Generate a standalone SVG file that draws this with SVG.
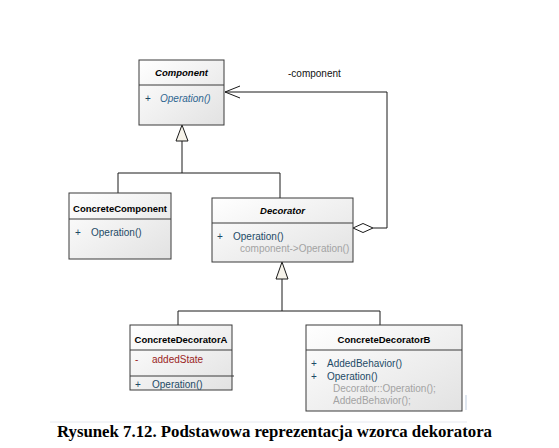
<svg xmlns="http://www.w3.org/2000/svg" width="559" height="448" viewBox="0 0 559 448">
<defs>
<linearGradient id="g" x1="0" y1="0" x2="1" y2="1">
<stop offset="0" stop-color="#ffffff"/>
<stop offset="1" stop-color="#e2e2e2"/>
</linearGradient>
</defs>
<style>
.box{fill:url(#g);stroke:#3a3a3a;stroke-width:1}
.div{stroke:#3a3a3a;stroke-width:1}
.ln{fill:none;stroke:#1a1a1a;stroke-width:1}
.tri{fill:#f6f3ea;stroke:#1a1a1a;stroke-width:1}
.nm{font-family:"Liberation Sans",Arial,sans-serif;font-size:9.5px;font-weight:bold;fill:#000}
.it{font-style:italic}
.m{font-family:"Liberation Sans",Arial,sans-serif;font-size:10px;fill:#1d4a66}
.mi{font-style:italic;fill:#2f6690}
.red{fill:#9a2424}
.gr{font-family:"Liberation Sans",Arial,sans-serif;font-size:10px;fill:#a3a3a3}
.lbl{font-family:"Liberation Sans",Arial,sans-serif;font-size:10px;fill:#111}
.cap{font-family:"Liberation Serif","Times New Roman",serif;font-size:16px;font-weight:bold;fill:#000}
</style>
<rect width="559" height="448" fill="#ffffff"/>
<g id="connectors">
<polyline class="ln" points="182,141 182,173"/>
<polyline class="ln" points="118,193 118,173 280,173 280,198"/>
<polygon class="tri" points="182,125 176,141 188,141"/>
<polyline class="ln" points="282,279 282,311"/>
<polyline class="ln" points="178,325 178,311 380,311 380,325"/>
<polygon class="tri" points="282,262 276,279 288,279"/>
<polyline class="ln" points="373,228 387,228 387,92 225,92"/>
<polyline class="ln" points="240,86 225,92 240,98"/>
<polygon fill="#ffffff" stroke="#1a1a1a" stroke-width="1" points="353,228 363,223.5 373,228 363,232.5"/>
<text class="lbl" x="288" y="77">-component</text>
</g>
<g id="Component">
<rect class="box" x="139" y="60" width="85" height="65"/>
<line class="div" x1="139" y1="85" x2="224" y2="85"/>
<text class="nm it" x="181.5" y="76" text-anchor="middle">Component</text>
<text class="m" x="145" y="102">+</text>
<text class="m mi" x="160" y="102">Operation()</text>
</g>
<g id="ConcreteComponent">
<rect class="box" x="69" y="193" width="102" height="66"/>
<line class="div" x1="69" y1="219" x2="171" y2="219"/>
<text class="nm" x="120" y="212" text-anchor="middle">ConcreteComponent</text>
<text class="m" x="75" y="236">+</text>
<text class="m" x="91" y="236">Operation()</text>
</g>
<g id="Decorator">
<rect class="box" x="212" y="198" width="141" height="64"/>
<line class="div" x1="212" y1="223" x2="353" y2="223"/>
<text class="nm it" x="282.5" y="214" text-anchor="middle">Decorator</text>
<text class="m" x="217" y="240">+</text>
<text class="m" x="233" y="240">Operation()</text>
<text class="gr" x="240" y="252">component-&gt;Operation()</text>
</g>
<g id="ConcreteDecoratorA">
<rect class="box" x="130" y="325" width="102" height="65"/>
<line class="div" x1="130" y1="350" x2="232" y2="350"/>
<line class="div" x1="130" y1="376" x2="234" y2="376"/>
<text class="nm" x="181" y="343" text-anchor="middle">ConcreteDecoratorA</text>
<text class="m red" x="135" y="363">-</text>
<text class="m red" x="152" y="363">addedState</text>
<text class="m" x="135" y="388">+</text>
<text class="m" x="152" y="388">Operation()</text>
</g>
<g id="ConcreteDecoratorB">
<rect class="box" x="306" y="325" width="156" height="86"/>
<line class="div" x1="306" y1="350" x2="462" y2="350"/>
<text class="nm" x="384" y="343" text-anchor="middle">ConcreteDecoratorB</text>
<text class="m" x="311" y="367">+</text>
<text class="m" x="327" y="367">AddedBehavior()</text>
<text class="m" x="311" y="380">+</text>
<text class="m" x="327" y="380">Operation()</text>
<text class="gr" x="333" y="392">Decorator::Operation();</text>
<text class="gr" x="333" y="404">AddedBehavior();</text>
</g>
<rect x="465" y="395" width="2" height="15" fill="#dfe6ef"/>
<line x1="50" y1="422" x2="467" y2="422" stroke="#e6e9f0" stroke-width="1"/>
<text class="cap" x="57" y="437" textLength="435" lengthAdjust="spacingAndGlyphs">Rysunek 7.12. Podstawowa reprezentacja wzorca dekoratora</text>
</svg>
